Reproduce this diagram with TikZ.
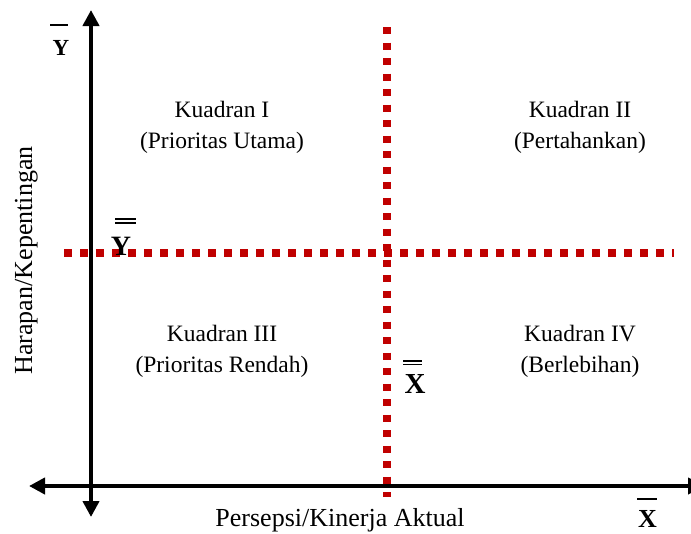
\documentclass[tikz,border=0pt]{standalone}
\usepackage{fontspec}
\setmainfont{Liberation Serif}
\usetikzlibrary{arrows.meta}
\definecolor{meanred}{RGB}{192,0,0}
\begin{document}
\begin{tikzpicture}[x=1pt,y=-1pt,
  axis/.style={line width=4.5pt, {Triangle[length=16pt,width=16pt]}-{Triangle[length=16pt,width=16pt]}},
  meanline/.style={draw=meanred, line width=7.5pt},
  quad/.style={font=\fontsize{23.5}{31}\selectfont, align=center, anchor=base, inner sep=0pt},
  axislabel/.style={font=\fontsize{26}{30}\selectfont, anchor=base, inner sep=0pt},
  symb/.style={font=\bfseries\fontsize{#1}{#1}\selectfont, anchor=base, inner sep=0pt},
  bar/.style={line width=1.8pt},
]
\useasboundingbox (0,0) rectangle (691,533);
\clip (0,0) rectangle (691,533);
\fill[white] (0,0) rectangle (691,533);

% coordinates
\coordinate (ytop) at (91,10);
\coordinate (ybot) at (91,517);
\coordinate (xleft) at (29,486);
\coordinate (xright) at (704,486);
\coordinate (mxtop) at (387,27);
\coordinate (mxbot) at (387,497);
\coordinate (myleft) at (64,253);
\coordinate (myright) at (674,253);

% mean lines (red, dotted)
\draw[meanline, dash pattern=on 7pt off 8.5pt] (mxtop) -- (mxbot);
\draw[meanline, dash pattern=on 7.5pt off 8.5pt] (myleft) -- (myright);

% axes
\draw[axis] (ybot) -- (ytop);
\draw[axis, line width=4pt] (xleft) -- (xright);

% quadrant labels (anchor = baseline of the last line)
\node[quad] (q1) at (222,148) {Kuadran I\\(Prioritas Utama)};
\node[quad] (q2) at (580,148) {Kuadran II\\(Pertahankan)};
\node[quad] (q3) at (222,372) {Kuadran III\\(Prioritas Rendah)};
\node[quad] (q4) at (580,372) {Kuadran IV\\(Berlebihan)};

% axis labels
\node[axislabel, rotate=90] (ylab) at (32,260.5) {Harapan/Kepentingan};
\node[axislabel] (xlab) at (340,526) {Persepsi/Kinerja Aktual};

% symbols
\node[symb=23] (ybar) at (61,55) {Y};
\draw[bar, line width=2pt] (50,25) -- (68,25);

\node[symb=28] (ydbar) at (121,255) {Y};
\draw[bar] (115,219) -- (136,219);
\draw[bar] (115,223) -- (136,223);

\node[symb=29] (xdbar) at (415,393) {X};
\draw[bar] (403,361) -- (422,361);
\draw[bar] (403,364.5) -- (422,364.5);

\node[symb=26] (xbar) at (647.5,527) {X};
\draw[bar, line width=2pt] (637,499) -- (657,499);
\end{tikzpicture}
\end{document}
